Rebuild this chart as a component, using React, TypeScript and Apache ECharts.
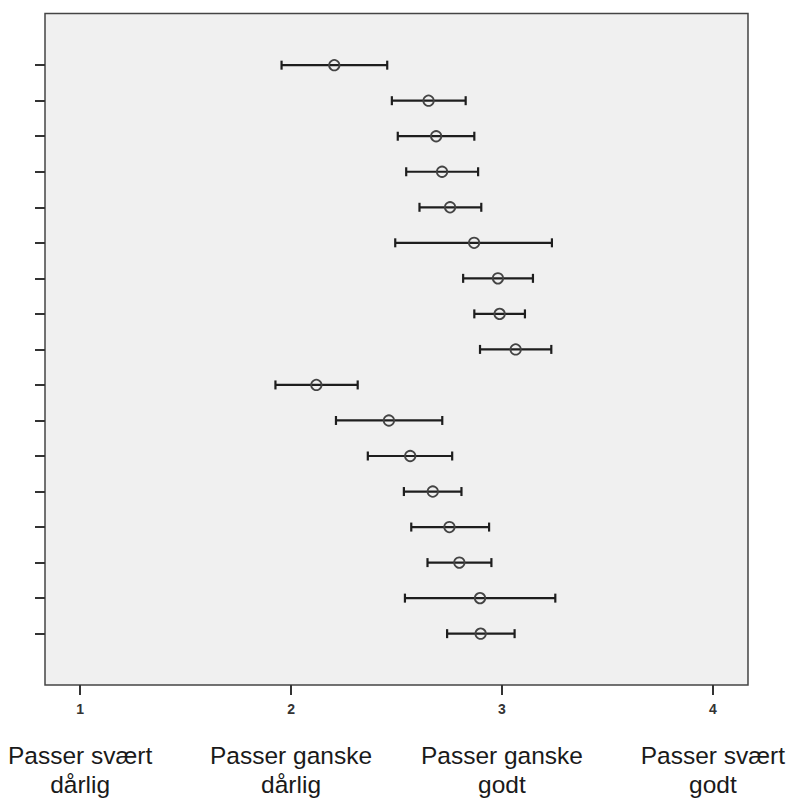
import React, { useEffect, useRef } from "react";
import * as echarts from "echarts";

const xTicks = [1, 2, 3, 4];
const scaleLabels = [
  "Passer svært\ndårlig",
  "Passer ganske\ndårlig",
  "Passer ganske\ngodt",
  "Passer svært\ngodt",
];
const means = [2.205, 2.652, 2.688, 2.716, 2.754, 2.868, 2.981, 2.989, 3.065, 2.12, 2.464, 2.565, 2.672, 2.751, 2.798, 2.896, 2.899];
const lows = [1.955, 2.478, 2.506, 2.546, 2.609, 2.494, 2.816, 2.869, 2.896, 1.926, 2.213, 2.364, 2.535, 2.57, 2.647, 2.54, 2.74];
const highs = [2.456, 2.828, 2.869, 2.887, 2.902, 3.237, 3.147, 3.109, 3.234, 2.316, 2.717, 2.764, 2.808, 2.939, 2.95, 3.253, 3.06];

export default function App() {
  const ref = useRef<HTMLDivElement>(null);
  useEffect(() => {
    document.body.style.margin = "0";
    const chart = echarts.init(ref.current!, null, { renderer: "svg" });
    const rowIdx = means.map((_, i) => i);
    const data = means.map((m, i) => [i, lows[i], m, highs[i]]);
    const font = "'Liberation Sans', Arial, sans-serif";
    chart.setOption({
      animation: false,
      grid: {
        left: 45,
        top: 13.5,
        right: 37,
        bottom: 109,
        show: true,
        backgroundColor: "#f0f0f0",
        borderColor: "#444",
        borderWidth: 1.5,
      },
      xAxis: [
        {
          type: "value",
          min: 1 - 1 / 6,
          max: 4 + 1 / 6,
          position: "bottom",
          axisLine: { show: false, onZero: false },
          splitLine: { show: false },
          axisTick: {
            show: true,
            length: 10,
            customValues: xTicks,
            lineStyle: { color: "#333", width: 2 },
          },
          axisLabel: {
            customValues: xTicks,
            fontSize: 14,
            fontWeight: "bold",
            color: "#333",
            margin: 17,
            fontFamily: font,
          },
        },
        {
          type: "value",
          min: 1 - 1 / 6,
          max: 4 + 1 / 6,
          position: "bottom",
          axisLine: { show: false, onZero: false },
          splitLine: { show: false },
          axisTick: { show: false },
          axisLabel: {
            customValues: xTicks,
            formatter: (v: number) => scaleLabels[Math.round(v) - 1] ?? "",
            fontSize: 24.5,
            lineHeight: 29,
            color: "#1a1a1a",
            margin: 56,
            fontFamily: font,
          },
        },
      ],
      yAxis: {
        type: "value",
        inverse: true,
        min: -1.454,
        max: 17.445,
        axisLine: { show: false, onZero: false },
        splitLine: { show: false },
        axisTick: {
          show: true,
          length: 10,
          customValues: rowIdx,
          lineStyle: { color: "#333", width: 2 },
        },
        axisLabel: { show: false },
      },
      series: [
        {
          type: "custom",
          xAxisIndex: 0,
          data,
          encode: { x: [1, 2, 3], y: 0 },
          renderItem: (params: any, api: any) => {
            const row = api.value(0);
            const pLo = api.coord([api.value(1), row]);
            const pM = api.coord([api.value(2), row]);
            const pHi = api.coord([api.value(3), row]);
            const h = 4.5;
            const st = { stroke: "#1e1e1e", lineWidth: 2.2 };
            return {
              type: "group",
              children: [
                { type: "line", shape: { x1: pLo[0], y1: pLo[1], x2: pHi[0], y2: pHi[1] }, style: st },
                { type: "line", shape: { x1: pLo[0], y1: pLo[1] - h, x2: pLo[0], y2: pLo[1] + h }, style: st },
                { type: "line", shape: { x1: pHi[0], y1: pHi[1] - h, x2: pHi[0], y2: pHi[1] + h }, style: st },
                {
                  type: "circle",
                  shape: { cx: pM[0], cy: pM[1], r: 5.2 },
                  style: { fill: "transparent", stroke: "#444", lineWidth: 1.8 },
                },
              ],
            };
          },
        },
      ],
    });
    return () => chart.dispose();
  }, []);
  return <div ref={ref} style={{ width: 788, height: 799 }} />;
}
